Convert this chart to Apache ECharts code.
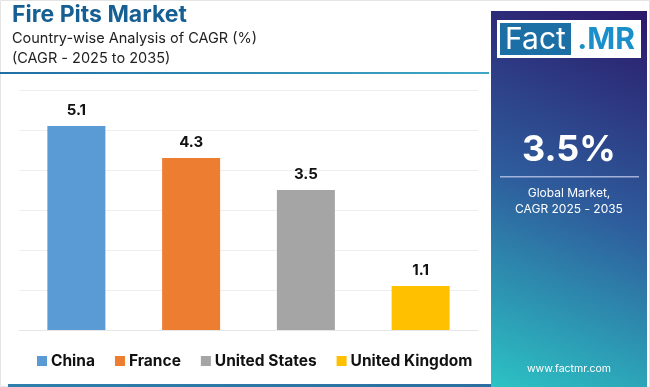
<!DOCTYPE html>
<html><head><meta charset="utf-8">
<script src="https://cdn.jsdelivr.net/npm/echarts@6/dist/echarts.min.js"></script>
<style>html,body{margin:0;padding:0;background:#fff}#c{width:650px;height:387px}</style>
</head><body><div id="c"></div>
<script>
const categories = ['China', 'France', 'United States', 'United Kingdom'];
const values = [5.1, 4.3, 3.5, 1.1];
const colors = ['#5b9bd5', '#ed7d31', '#a5a5a5', '#ffc000'];
const yTicks = [0, 1, 2, 3, 4, 5, 6];
const titleText = 'Fire Pits Market';
const subtitle1 = 'Country-wise Analysis of CAGR (%)';
const subtitle2 = '(CAGR - 2025 to 2035)';
const globalValue = '3.5%';
const globalLabel = ['Global Market,', 'CAGR 2025 - 2035'];

const F = 'Inter, "Noto Sans", sans-serif';
const chart = echarts.init(document.getElementById('c'), null, {renderer: 'canvas'});

const series = categories.map((name, i) => ({
  name,
  type: 'bar',
  barWidth: 58,
  barGap: '-100%',
  itemStyle: {color: colors[i]},
  label: {show: true, position: 'top', distance: 8, fontFamily: F, fontWeight: 'bold', fontSize: 15, color: '#111'},
  data: categories.map((c, j) => j === i ? values[i] : '-')
}));

chart.setOption({
  animation: false,
  grid: {left: 19, right: 172, top: 90, bottom: 57},
  xAxis: {type: 'category', data: categories, axisLabel: {show: false}, axisTick: {show: false},
    axisLine: {lineStyle: {color: '#e6e6e6'}}},
  yAxis: {type: 'value', min: yTicks[0], max: yTicks[yTicks.length - 1], interval: 1,
    axisLabel: {show: false}, axisLine: {show: false}, axisTick: {show: false},
    splitLine: {lineStyle: {color: '#eeeeee'}}},
  legend: {left: 32, top: 348, itemWidth: 10, itemHeight: 10, itemGap: 20, icon: 'rect',
    textStyle: {fontFamily: F, fontWeight: 'bold', fontSize: 15.5, color: '#111', padding: [0, 0, 0, -1]},
    data: categories},
  series,
  graphic: [
    {type: 'rect', shape: {x: 0.5, y: 0.5, width: 649, height: 386}, style: {fill: 'none', stroke: '#e4e4e4'}, silent: true, z: -10},
    {type: 'text', left: 12, top: 4, style: {text: titleText, fontFamily: F, fontWeight: 'bold', fontSize: 23, fill: '#165f93'}},
    {type: 'text', left: 12, top: 31, style: {text: subtitle1, fontFamily: F, fontSize: 14.5, fill: '#222'}},
    {type: 'text', left: 12, top: 51, style: {text: subtitle2, fontFamily: F, fontSize: 14.5, fill: '#222'}},
    {type: 'rect', shape: {x: 0, y: 72, width: 489, height: 2}, style: {fill: new echarts.graphic.LinearGradient(0, 0, 1, 0, [{offset: 0, color: '#1f6fa3'}, {offset: 1, color: '#3fa7c4'}])}},
    {type: 'rect', shape: {x: 8, y: 384, width: 484, height: 3}, style: {fill: new echarts.graphic.LinearGradient(0, 0, 1, 0, [{offset: 0, color: '#2e7fae'}, {offset: 1, color: '#2b6fa2'}])}},
    {type: 'rect', shape: {x: 491, y: 11, width: 156, height: 376},
      style: {fill: new echarts.graphic.LinearGradient(1, 0, 0, 1, [{offset: 0, color: '#2c186a'}, {offset: 0.5, color: '#2e5c9c'}, {offset: 1, color: '#2cc3c4'}])}},
    {type: 'rect', shape: {x: 497, y: 20, width: 144, height: 38}, style: {fill: '#ffffff'}},
    {type: 'rect', shape: {x: 500, y: 23, width: 71, height: 32}, style: {fill: '#1b6fa5'}},
    {type: 'text', x: 535.5, y: 39.5, style: {text: 'Fact', fontFamily: F, fontSize: 30, fill: '#fff', align: 'center', verticalAlign: 'middle'}},
    {type: 'text', x: 606, y: 39.5, style: {text: '.MR', fontFamily: F, fontWeight: 'bold', fontSize: 30, fill: '#1a8fca', align: 'center', verticalAlign: 'middle'}},
    {type: 'text', x: 569, y: 150, style: {text: globalValue, fontFamily: F, fontWeight: 'bold', fontSize: 36, fill: '#fff', align: 'center', verticalAlign: 'middle'}},
    {type: 'rect', shape: {x: 500, y: 176, width: 139, height: 1.5}, style: {fill: 'rgba(200,210,240,0.75)'}},
    {type: 'text', x: 569, y: 193, style: {text: globalLabel[0], fontFamily: F, fontSize: 12, fill: '#fff', align: 'center', verticalAlign: 'middle'}},
    {type: 'text', x: 569, y: 209, style: {text: globalLabel[1], fontFamily: F, fontSize: 12, fill: '#fff', align: 'center', verticalAlign: 'middle'}},
    {type: 'text', x: 569, y: 369, style: {text: 'www.factmr.com', fontFamily: F, fontSize: 10.5, fill: '#fff', align: 'center', verticalAlign: 'middle'}}
  ]
});
</script></body></html>
